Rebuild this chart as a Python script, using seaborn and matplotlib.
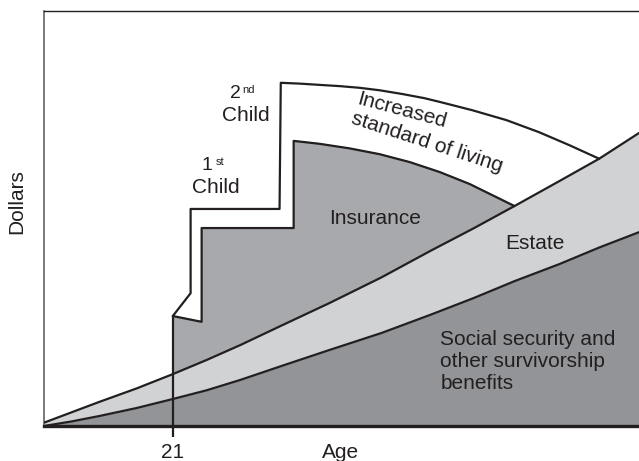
import numpy as np
import matplotlib
matplotlib.use('Agg')
import matplotlib.pyplot as plt
import seaborn as sns

# values (x = age, y = dollars in arbitrary units 0-100)
ages = [0, 4.5, 9, 15, 21, 26.5, 32, 39, 46.5, 55, 63, 70, 76.7, 84, 90.5, 97]
estate_top = [0.8, 3.3, 5.8, 9.0, 12.5, 15.9, 19.5, 24.4, 29.6, 35.8, 42.2, 47.6, 53.0, 59.0, 64.4, 70.6]
social_security = [0, 1.1, 2.4, 4.3, 6.5, 8.6, 11.1, 14.6, 18.3, 22.4, 26.8, 30.8, 34.9, 39.0, 43.0, 46.7]

need_ages = [21, 23.9, 23.9, 38.4, 38.6, 41.7, 44.9, 48.2, 51.4, 54.7, 58.4, 62.0,
             64.5, 69.8, 75.4, 80.7, 85.6, 90.5]
need_top = [26.5, 32.0, 52.3, 52.3, 82.7, 82.5, 82.2, 81.9, 81.5, 80.9, 80.0, 79.0,
            78.1, 76.1, 73.7, 70.8, 67.7, 64.4]

insurance_ages = [21, 25.7, 25.7, 40.7, 40.7, 44.9, 49.8, 54.7, 59.6, 64.5, 69.4, 73.4, 76.7]
insurance_top = [26.5, 25.1, 47.7, 47.7, 68.7, 68.0, 66.9, 65.5, 63.6, 61.2, 58.3, 55.4, 53.0]

c_ss = '#939497'
c_estate = '#d1d2d4'
c_ins = '#a8a9ac'
c_line = '#231f20'

sns.set_theme(style='white')
plt.rcParams['font.family'] = ['Liberation Sans', 'DejaVu Sans']

fig = plt.figure(figsize=(6.39, 4.61), dpi=100)
ax = fig.add_axes([44 / 639, 35 / 461, 1 - 44 / 639, 415 / 461])

ages_a = np.array(ages)
est_a = np.array(estate_top)

# white "total need" region, closed along the estate line
back = (ages_a >= 21) & (ages_a <= 90.5)
px = list(need_ages) + list(ages_a[back][::-1])
py = list(need_top) + list(est_a[back][::-1])
ax.fill(px, py, color='white', zorder=1)

# insurance region
back = (ages_a >= 21) & (ages_a <= 76.7)
ix = list(insurance_ages) + list(ages_a[back][::-1])
iy = list(insurance_top) + list(est_a[back][::-1])
ax.fill(ix, iy, color=c_ins, zorder=2)

ax.fill_between(ages, social_security, estate_top, color=c_estate, lw=0, zorder=3)
ax.fill_between(ages, 0, social_security, color=c_ss, lw=0, zorder=4)

lw = 1.6
sns.lineplot(x=need_ages, y=need_top, sort=False, estimator=None, color=c_line, lw=lw, ax=ax, zorder=5)
sns.lineplot(x=insurance_ages, y=insurance_top, sort=False, estimator=None, color=c_line, lw=lw, ax=ax, zorder=5)
sns.lineplot(x=ages, y=estate_top, sort=False, estimator=None, color=c_line, lw=lw, ax=ax, zorder=6)
sns.lineplot(x=ages, y=social_security, sort=False, estimator=None, color=c_line, lw=lw, ax=ax, zorder=6)
ax.plot([21, 21], [0, need_top[0]], color=c_line, lw=lw, zorder=6)

ax.set_xlim(0, 97)
ax.set_ylim(0, 100)
ax.set_xticks([21])
ax.set_xticklabels(['21'], fontsize=15, color=c_line)
ax.set_yticks([])
ax.tick_params(axis='x', direction='out', length=8, width=lw, color=c_line, pad=4, bottom=True)
ax.set_xlabel('')
ax.set_ylabel('')

ax.spines['top'].set_color(c_line)
ax.spines['top'].set_linewidth(1.0)
ax.spines['left'].set_color('#555555')
ax.spines['left'].set_linewidth(1.1)
ax.spines['right'].set_visible(False)
ax.spines['bottom'].set_color(c_line)
ax.spines['bottom'].set_linewidth(2.4)
ax.spines['bottom'].set_zorder(7)

tc = c_line
fig.text(341 / 639, 1 - 452 / 461, 'Age', fontsize=15, color=tc, ha='center', va='center')
fig.text(17 / 639, 1 - 202 / 461, 'Dollars', fontsize=15, color=tc, ha='center', va='center', rotation=90)


def dx(xp):
    return (xp - 44) / 6.143


def dy(yp):
    return (426 - yp) / 4.15


ax.text(dx(376), dy(218), 'Insurance', fontsize=15, color=tc, ha='center', va='center', zorder=8)
ax.text(dx(536), dy(243), 'Estate', fontsize=15, color=tc, ha='center', va='center', zorder=8)
ax.text(dx(441), dy(361), 'Social security and\nother survivorship\nbenefits',
        fontsize=15, color=tc, ha='left', va='center', linespacing=1.2, zorder=8)

# child labels
ax.text(dx(207), dy(165), '1', fontsize=14, color=tc, ha='center', va='center')
ax.text(dx(220), dy(162), 'st', fontsize=8, color=tc, ha='center', va='center')
ax.text(dx(216), dy(187), 'Child', fontsize=15, color=tc, ha='center', va='center')
ax.text(dx(236), dy(93), '2', fontsize=14, color=tc, ha='center', va='center')
ax.text(dx(249), dy(90), 'nd', fontsize=8, color=tc, ha='center', va='center')
ax.text(dx(246), dy(115), 'Child', fontsize=15, color=tc, ha='center', va='center')

ax.text(dx(402), dy(111), 'Increased', fontsize=15, color=tc,
        ha='center', va='center', rotation=-15, zorder=8)
ax.text(dx(428), dy(142), 'standard of living', fontsize=15, color=tc,
        ha='center', va='center', rotation=-18, zorder=8)

fig.savefig('out.png', dpi=100)
